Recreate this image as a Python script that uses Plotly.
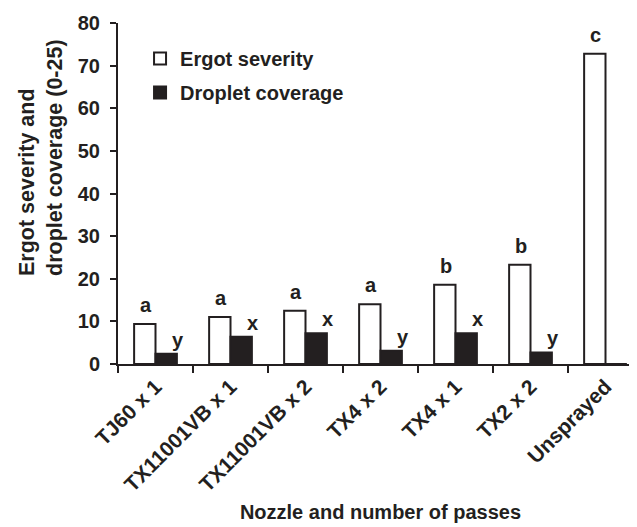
import plotly.graph_objects as go

categories = ["TJ60 x 1", "TX11001VB x 1", "TX11001VB x 2", "TX4 x 2", "TX4 x 1", "TX2 x 2", "Unsprayed"]
ergot_severity = [9.4, 11.0, 12.5, 14.0, 18.6, 23.3, 72.8]
droplet_coverage = [2.4, 6.4, 7.2, 3.1, 7.2, 2.7, 0]
ergot_letters = ["a", "a", "a", "a", "b", "b", "c"]
droplet_letters = ["y", "x", "x", "y", "x", "y", ""]

INK = "#231f20"
FONT = "Liberation Sans"

fig = go.Figure()
fig.add_trace(go.Bar(
    x=categories, y=ergot_severity, name="Ergot severity",
    marker=dict(color="white", line=dict(color=INK, width=2)),
    legendgroup="g1",
))
fig.add_trace(go.Bar(
    x=categories, y=droplet_coverage, name="Droplet coverage",
    marker=dict(color=INK, line=dict(color=INK, width=2)),
    legendgroup="g2",
))

annotations = []
for c, v, t in zip(categories, ergot_severity, ergot_letters):
    if t:
        annotations.append(dict(x=c, y=v, xref="x", yref="y", text=t, showarrow=False,
                                xanchor="center", yanchor="bottom", xshift=-10, yshift=6,
                                font=dict(family=FONT, size=20, color=INK, weight="bold")))
for c, v, t in zip(categories, droplet_coverage, droplet_letters):
    if t:
        annotations.append(dict(x=c, y=v, xref="x", yref="y", text=t, showarrow=False,
                                xanchor="center", yanchor="bottom", xshift=22, yshift=1,
                                font=dict(family=FONT, size=20, color=INK, weight="bold")))
annotations.append(dict(
    x=-0.148, y=0.605, xref="paper", yref="paper", showarrow=False,
    text="Ergot severity and<br>droplet coverage (0-25)", textangle=-90, align="left",
    xanchor="center", yanchor="middle",
    font=dict(family=FONT, size=21.5, color=INK, weight="bold"),
))

fig.update_layout(
    width=637, height=527,
    margin=dict(l=110, r=2, t=15, b=171),
    paper_bgcolor="white", plot_bgcolor="white",
    barmode="group", bargap=0.43, bargroupgap=0,
    font=dict(family=FONT, size=19, color=INK, weight="bold"),
    showlegend=True,
    legend=dict(x=0.042, y=0.953, xanchor="left", yanchor="top", bgcolor="rgba(0,0,0,0)",
                font=dict(family=FONT, size=20, color=INK, weight="bold"),
                tracegroupgap=5, traceorder="grouped"),
    annotations=annotations,
)
fig.update_xaxes(
    type="category", showline=True, linewidth=2, linecolor=INK,
    ticks="outside", tickson="boundaries", ticklen=7, tickwidth=2, tickcolor=INK,
    tickangle=-45, showgrid=False, zeroline=False,
    tickfont=dict(family=FONT, size=21, color=INK, weight="bold"),
    title=dict(text="Nozzle and number of passes", standoff=10,
               font=dict(family=FONT, size=20, color=INK, weight="bold")),
)
fig.update_yaxes(
    range=[0, 80], tickvals=[0, 10, 20, 30, 40, 50, 60, 70, 80],
    showline=True, linewidth=2, linecolor=INK,
    ticks="outside", ticklen=6, tickwidth=2, tickcolor=INK,
    ticklabelstandoff=6,
    showgrid=False, zeroline=False,
    tickfont=dict(family=FONT, size=20, color=INK, weight="bold"),
)

fig.write_html("out.html")
